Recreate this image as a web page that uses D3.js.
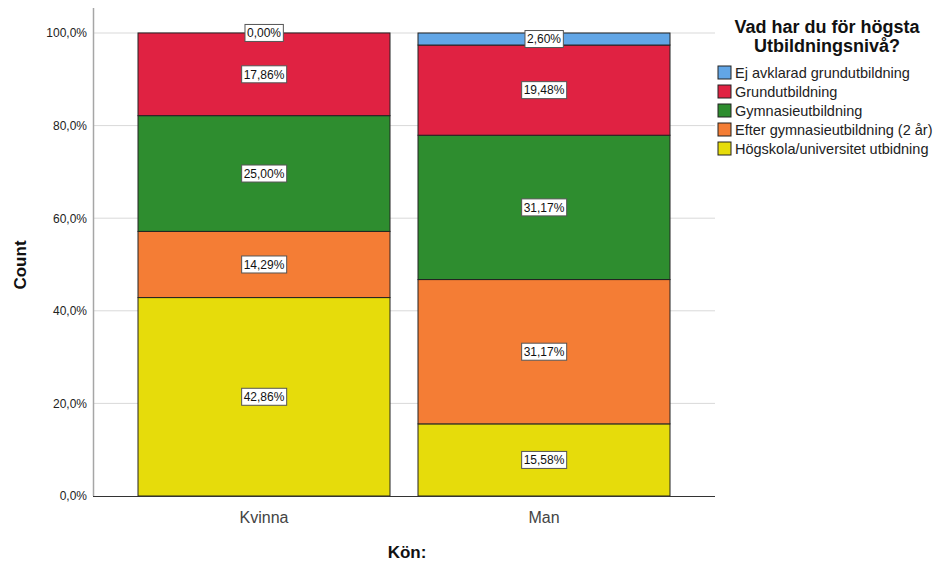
<!DOCTYPE html>
<meta charset="utf-8">
<head>
    <style>
        body { margin: 0; background: #fff; }
        text { font-family: Arial, "Liberation Sans", sans-serif; }
    </style>
    <script src="https://d3js.org/d3.v7.min.js"></script>
</head>
<body></body>
<script>

    var categories = ["Kvinna", "Man"],
        series = ["Högskola/universitet utbidning", "Efter gymnasieutbildning (2 år)", "Gymnasieutbildning", "Grundutbildning", "Ej avklarad grundutbildning"],
        legendOrder = ["Ej avklarad grundutbildning", "Grundutbildning", "Gymnasieutbildning", "Efter gymnasieutbildning (2 år)", "Högskola/universitet utbidning"],
        kvinna = [42.86, 14.29, 25.00, 17.86, 0.00],
        man = [15.58, 31.17, 31.17, 19.48, 2.60],
        yTicks = [0, 20, 40, 60, 80, 100];

    var colors = {
        "Ej avklarad grundutbildning": "#62a6e6",
        "Grundutbildning": "#e02242",
        "Gymnasieutbildning": "#2e8d2f",
        "Efter gymnasieutbildning (2 år)": "#f47d35",
        "Högskola/universitet utbidning": "#e6dc0b"
    };

    var width = 937, height = 563;
    var svg = d3.select("body").append("svg")
        .attr("width", width)
        .attr("height", height);

    var x = d3.scaleBand().domain(categories).range([138, 670]).paddingInner(0.1).paddingOuter(0);
    var y = d3.scaleLinear().domain([0, 100]).range([496, 33]);

    // gridlines
    svg.selectAll(".grid")
      .data(yTicks.filter(function(d) { return d > 0; }))
        .enter().append("line")
        .attr("x1", 93).attr("x2", 715)
        .attr("y1", function(d) { return y(d); })
        .attr("y2", function(d) { return y(d); })
        .attr("stroke", "#d9d9d9").attr("stroke-width", 1);

    // axes
    var yAxis = svg.append("g").attr("transform", "translate(93,0)")
        .call(d3.axisLeft(y).tickValues(yTicks).tickSize(0).tickPadding(6)
            .tickFormat(function(d) { return d.toFixed(1).replace(".", ",") + "%"; }));
    yAxis.select(".domain").remove();
    yAxis.selectAll("text").attr("font-size", 12).attr("fill", "#222").style("font-family", "Arial, 'Liberation Sans', sans-serif");
    svg.append("line").attr("x1", 93.5).attr("x2", 93.5).attr("y1", 8).attr("y2", 496).attr("stroke", "#a6a6a6").attr("stroke-width", 1.5);

    // stacked bars
    var data = categories.map(function(c, i) {
        var vals = i === 0 ? kvinna : man, obj = { cat: c };
        series.forEach(function(s, j) { obj[s] = vals[j]; });
        return obj;
    });
    var stack = d3.stack().keys(series)(data);

    var layers = svg.selectAll(".layer")
      .data(stack)
        .enter().append("g")
        .attr("fill", function(d) { return colors[d.key]; });

    layers.selectAll("rect")
      .data(function(d) { return d; })
        .enter().append("rect")
        .attr("x", function(d) { return x(d.data.cat); })
        .attr("width", x.bandwidth())
        .attr("y", function(d) { return y(d[1]); })
        .attr("height", function(d) { return y(d[0]) - y(d[1]); })
        .attr("stroke", "#222").attr("stroke-width", 1);

    svg.append("line").attr("x1", 93).attr("x2", 715).attr("y1", 496.5).attr("y2", 496.5).attr("stroke", "#333").attr("stroke-width", 1);

    // value labels
    stack.forEach(function(layer) {
        layer.forEach(function(d) {
            var cx = x(d.data.cat) + x.bandwidth() / 2,
                cy = y((d[0] + d[1]) / 2),
                label = (d[1] - d[0]).toFixed(2).replace(".", ",") + "%";
            var g = svg.append("g").attr("transform", "translate(" + cx + "," + cy + ")");
            var t = g.append("text").attr("text-anchor", "middle").attr("dy", "0.36em")
                .attr("font-size", 12).attr("fill", "#111").text(label);
            var bb = t.node().getBBox();
            g.insert("rect", "text")
                .attr("x", bb.x - 2).attr("y", -8.5)
                .attr("width", bb.width + 4).attr("height", 17)
                .attr("fill", "#fff").attr("stroke", "#555").attr("stroke-width", 1);
        });
    });

    // x category labels
    svg.selectAll(".xlab")
      .data(categories)
        .enter().append("text")
        .attr("x", function(d) { return x(d) + x.bandwidth() / 2; })
        .attr("y", 523)
        .attr("text-anchor", "middle").attr("font-size", 16).attr("fill", "#444")
        .text(function(d) { return d; });

    // axis titles
    svg.append("text").attr("x", 407).attr("y", 558).attr("text-anchor", "middle")
        .attr("font-size", 17).attr("font-weight", "bold").attr("fill", "#111").text("Kön:");
    svg.append("text").attr("transform", "translate(26,265) rotate(-90)").attr("text-anchor", "middle")
        .attr("font-size", 17).attr("font-weight", "bold").attr("fill", "#111").text("Count");

    // legend
    var legend = svg.append("g");
    legend.append("text").attr("x", 827).attr("y", 33).attr("text-anchor", "middle")
        .attr("font-size", 18).attr("font-weight", "bold").attr("fill", "#111").text("Vad har du för högsta");
    legend.append("text").attr("x", 827).attr("y", 52).attr("text-anchor", "middle")
        .attr("font-size", 18).attr("font-weight", "bold").attr("fill", "#111").text("Utbildningsnivå?");

    var items = legend.selectAll(".item")
      .data(legendOrder)
        .enter().append("g")
        .attr("transform", function(d, i) { return "translate(718," + (66 + i * 19) + ")"; });
    items.append("rect").attr("width", 13).attr("height", 13)
        .attr("fill", function(d) { return colors[d]; })
        .attr("stroke", "#222").attr("stroke-width", 1);
    items.append("text").attr("x", 17).attr("y", 12).attr("font-size", 14.5).attr("fill", "#222")
        .text(function(d) { return d; });

</script>
